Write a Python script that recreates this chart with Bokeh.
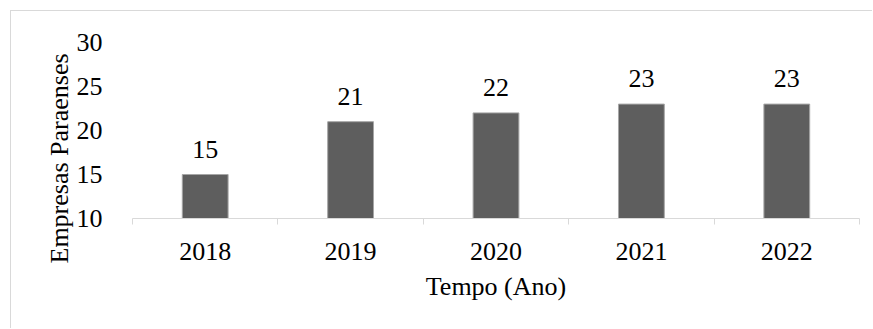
from bokeh.plotting import figure
from bokeh.models import Range1d, FixedTicker, ColumnDataSource, LabelSet, Title
from bokeh.embed import file_html
from bokeh.resources import INLINE

years = ["2018", "2019", "2020", "2021", "2022"]
empresas = [15, 21, 22, 23, 23]
y_ticks = [10, 15, 20, 25, 30]

FONT = "Liberation Serif"
FS = "26px"

xs = [i + 0.5 for i in range(len(years))]
src = ColumnDataSource(dict(x=xs, top=empresas, lab=[str(v) for v in empresas]))

p = figure(width=862, height=318, output_backend="svg", toolbar_location=None,
           x_range=Range1d(0, len(years)), y_range=Range1d(10, 30),
           min_border_left=121, min_border_right=14, min_border_top=31, min_border_bottom=111)
p.margin = (10, 0, 0, 10)
p.styles = {"border-left": "1px solid #d9d9d9", "border-top": "1px solid #d9d9d9"}
p.outline_line_color = None
p.grid.visible = False
p.background_fill_color = "white"
p.border_fill_color = "white"

p.vbar(x="x", top="top", bottom=10, width=0.315, source=src,
       fill_color="#5e5e5e", line_color="#a6a6a6", line_width=1)

labels = LabelSet(x="x", y="top", text="lab", source=src, text_align="center",
                  text_baseline="alphabetic", y_offset=17, text_font=FONT,
                  text_font_size=FS, text_color="#000000")
p.add_layout(labels)

xa = p.xaxis[0]
xa.ticker = FixedTicker(ticks=xs, minor_ticks=list(range(len(years) + 1)))
xa.major_label_overrides = {x: y for x, y in zip(xs, years)}
xa.major_tick_line_color = None
xa.minor_tick_line_color = "#d9d9d9"
xa.minor_tick_out = 6
xa.minor_tick_in = 0
xa.axis_line_color = "#d9d9d9"
xa.axis_line_width = 1
xa.major_label_text_font = FONT
xa.major_label_text_font_size = FS
xa.major_label_text_color = "#000000"
xa.major_label_standoff = 18
xa.axis_label = "Tempo (Ano)"
xa.axis_label_text_font = FONT
xa.axis_label_text_font_size = FS
xa.axis_label_text_font_style = "normal"
xa.axis_label_text_color = "#000000"
xa.axis_label_standoff = 9

ya = p.yaxis[0]
ya.ticker = FixedTicker(ticks=y_ticks)
ya.axis_line_color = None
ya.major_tick_line_color = None
ya.minor_tick_line_color = None
ya.major_label_text_font = FONT
ya.major_label_text_font_size = FS
ya.major_label_text_color = "#000000"
ya.major_label_standoff = 24

ytitle = Title(text="Empresas Paraenses", align="left", offset=-45,
               text_font=FONT, text_font_size=FS, text_font_style="normal",
               text_color="#000000", standoff=0)
p.add_layout(ytitle, "left")

open("out.html", "w").write(file_html(p, INLINE))
